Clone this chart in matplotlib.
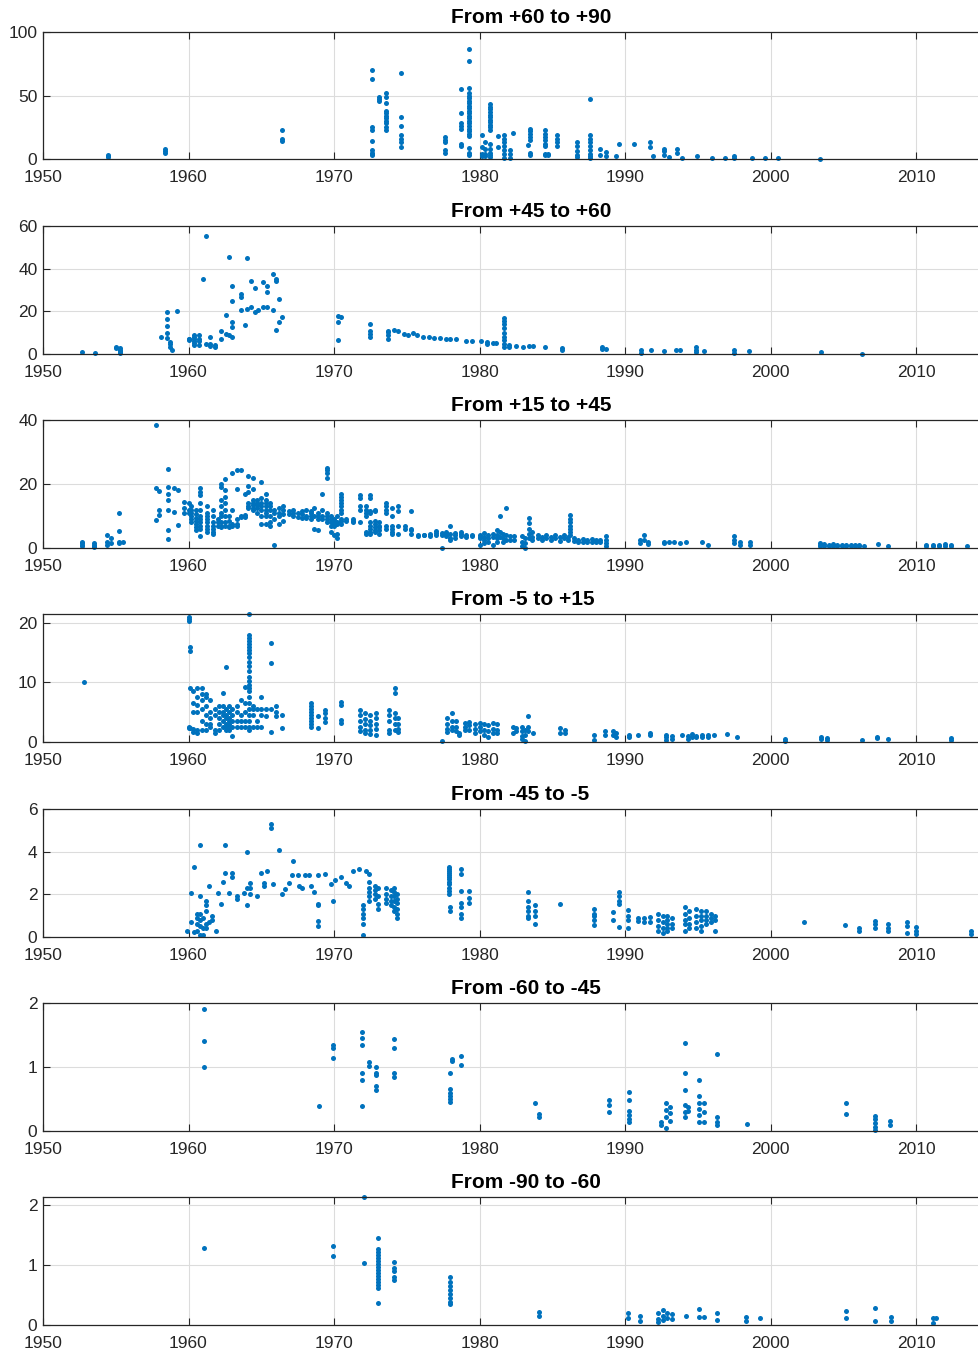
import matplotlib
matplotlib.use("Agg")
import matplotlib.pyplot as plt

# data: (year, [values...]) columns, one list per latitude band
band_titles = ["From +60 to +90", "From +45 to +60", "From +15 to +45", "From -5 to +15",
               "From -45 to -5", "From -60 to -45", "From -90 to -60"]
band_ylims = [100, 60, 40, 21.5, 6, 2, 2.14]
band_yticks = [[0, 50, 100], [0, 20, 40, 60], [0, 20, 40], [0, 10, 20],
               [0, 2, 4, 6], [0, 1, 2], [0, 1, 2]]

p1_cols = [
    (1954.5, [3.5, 2.5, 1.5]), (1958.4, [8, 6.5, 5]), (1966.4, [23, 16, 14.5]),
    (1972.6, [70, 63, 25, 23, 14, 7, 5, 4, 3]), (1973.1, [49, 47, 46]),
    (1973.6, [52, 49, 44, 38, 36, 34, 32, 30, 28, 25, 23]),
    (1974.6, [68, 33, 26, 19, 16, 13, 9.5]), (1977.6, [17, 15, 13, 7, 5]),
    (1978.7, [55, 36, 28, 26, 24, 12, 10]),
    (1979.3, [87, 77, 56, 52, 50, 48, 46, 44, 42, 40, 38, 36, 34, 32, 30, 28, 26, 24, 22, 20, 18, 9, 5, 3]),
    (1980.2, [19, 9.5, 4, 2]), (1980.4, [13, 8, 4, 2]),
    (1980.7, [43, 41, 39, 37, 35, 33, 31, 29, 27, 25, 23, 12, 8, 5, 3, 1.5]),
    (1981.3, [18, 9.5]), (1981.7, [19, 16, 13, 10, 7, 4, 1]), (1982.1, [7, 4, 1]),
    (1982.3, [20.5]), (1983.3, [11]), (1983.5, [24, 22, 20, 17, 15, 4.7, 3]),
    (1984.5, [22.6, 20, 17, 15, 12, 10, 4, 3]), (1984.7, [4, 3]),
    (1985.3, [19, 16, 13, 10]), (1986.7, [13, 10, 6, 3, 1.5]),
    (1987.6, [47.4, 19, 16, 13, 10, 7, 4, 2, 1]), (1988.3, [8, 3]), (1988.7, [5.5, 2]),
    (1989.4, [2]), (1989.6, [11.6]), (1990.6, [12]), (1991.7, [13, 9.5]), (1991.9, [2]),
    (1992.7, [8, 6, 3]), (1993.0, [1.5]), (1993.6, [8, 5]), (1993.9, [1]),
    (1994.95, [2]), (1996.0, [0.8]), (1996.9, [1]), (1997.5, [2, 0.5]), (1998.7, [0.8]),
    (1999.6, [0.8]), (2000.5, [0.5]), (2003.4, [0.3]),
]

p2_cols = [
    (1952.7, [0.9]), (1953.6, [0.3]), (1955.0, [3.5, 3]), (1955.3, [2.8, 2, 1.5, 1, 0.5]),
    (1958.1, [7.9]), (1958.5, [19.9, 16.5, 13, 9.8, 7.5]), (1958.7, [5.6, 4.5, 3.3]),
    (1958.9, [2]), (1959.2, [20]), (1960.0, [7, 6.5, 7.2]), (1960.4, [9, 8, 7, 6, 5, 4]),
    (1960.7, [9, 7, 6, 4]), (1961.0, [35.2]), (1961.2, [55.5, 4.8]), (1961.5, [4.8, 3.8, 7.9]),
    (1961.8, [4, 3.3]), (1962.2, [11, 7]), (1962.6, [18.5, 9.5]), (1962.8, [45.6, 8.7]),
    (1963.0, [32, 25, 15, 12.6, 7.9]), (1963.6, [28.2, 26.6, 20.4]), (1963.9, [13.7]),
    (1964.0, [45, 21.2]), (1964.3, [34.4, 22]), (1964.6, [31, 19.7]), (1964.8, [20.4]),
    (1965.1, [33.6, 22.2]), (1965.4, [32, 29, 22]), (1965.8, [37.5, 20.4]),
    (1966.0, [35, 34.4, 11.4]), (1966.2, [25.8, 15]), (1966.4, [17.3]),
    (1970.3, [18, 15, 6.7]), (1970.5, [17.2]), (1972.5, [14.2, 11, 9.5, 7.9]),
    (1973.7, [10.7, 10.3, 8.7, 7.2]), (1974.1, [11.4]), (1974.4, [10.6]),
    (1974.8, [9.5]), (1975.1, [8.7]), (1975.4, [10]), (1975.7, [8.7]),
    (1976.1, [7.9]), (1976.5, [7.9]), (1976.9, [7.5]), (1977.3, [7.5]), (1977.7, [7.2]),
    (1978.0, [7.2]), (1978.4, [7.2]), (1979.1, [6]), (1979.5, [6]), (1980.1, [6]),
    (1980.5, [4.8, 5.6]), (1980.9, [5.2]), (1981.1, [5.1]),
    (1981.7, [17.1, 15.6, 14, 12, 10, 8, 6.4, 4.8, 3.3]), (1982.0, [4.3, 3.3]),
    (1982.5, [3.7]), (1983.0, [3.5]), (1983.4, [3.7]), (1983.7, [3.7]), (1984.5, [3.3]),
    (1985.7, [2.8, 2]), (1988.4, [3.3, 2.5]), (1988.7, [2.5]), (1991.1, [1.7, 0.6]),
    (1991.8, [2]), (1992.7, [1.4]), (1993.5, [1.7]), (1993.8, [1.7]), (1994.9, [3.3, 2, 1]),
    (1995.4, [1.5]), (1997.5, [1.7, 0.5]), (1998.5, [1.2]), (2003.5, [0.8]), (2006.3, [0.2]),
]

p3_cols = [
    (1952.7, [2, 1.5, 1, 0.5]), (1953.5, [1.5, 1, 0.5, 0.2]), (1954.4, [4.2, 2, 1]),
    (1954.7, [3.1, 1.6]), (1955.2, [10.9, 5.4, 2, 1.6]), (1955.5, [2]),
    (1957.8, [38.4, 18.7, 8.8]), (1958.0, [17.7, 12, 10.4]),
    (1958.6, [24.6, 19.2, 17, 15, 12, 5.7, 2.8]), (1959.0, [18.7, 11.4]),
    (1959.3, [18.2, 7.3]), (1959.7, [14.5, 12.5, 11]), (1960.0, [14, 12, 10.9]),
    (1960.2, [13, 12, 11, 10, 9, 8]), (1960.5, [12, 10.5, 9.5, 8.5, 7.5, 6.5, 5.5]),
    (1960.8, [18.7, 17.5, 16.6, 14, 12, 10, 9, 8, 7, 6, 3.6]),
    (1961.3, [13, 11, 10, 9, 8, 7, 6, 5]), (1961.7, [12, 10, 8, 7, 6, 5, 4.5]),
    (1962.0, [9, 8, 7]), (1962.2, [20, 19, 15, 13, 11, 10, 8, 7, 6.5]),
    (1962.5, [21.5, 18, 16, 14, 12, 10, 8, 7]), (1962.8, [10, 8.5, 7, 6.5]),
    (1963.0, [23.5, 12, 7.5, 7]), (1963.3, [24.5, 18.5, 9, 7.5, 7]),
    (1963.6, [24.5, 10, 9.8]), (1963.9, [17, 10.2, 9.8]),
    (1964.1, [22.5, 19.5, 17.5, 14, 13, 12.5]), (1964.4, [22, 18.5, 15, 14, 13.5, 12.5, 12]),
    (1964.7, [15, 14, 13.5, 12.5, 11]), (1965.0, [20.5, 15.5, 14, 13, 12, 10, 7.5]),
    (1965.3, [17, 15, 14, 13, 12, 11, 10, 7.5]), (1965.6, [14, 13, 12, 10, 8, 7]),
    (1965.9, [0.8, 12, 11, 9]), (1966.2, [12.5, 11, 10, 7.5]), (1966.5, [13, 12, 10.5, 8.5]),
    (1966.9, [11.5, 10.5]), (1967.2, [12, 11, 10]), (1967.5, [11, 9.8]),
    (1967.8, [11.5, 10.5, 9.5]), (1968.1, [12, 10, 9.5]), (1968.4, [11.5, 11, 10, 9]),
    (1968.6, [12.5, 10, 6]), (1968.9, [11, 10, 9, 5.5]), (1969.2, [17, 12, 10, 9]),
    (1969.5, [25, 24.5, 23.5, 22, 11, 10, 9, 8]), (1969.8, [10, 9, 8, 7, 5]),
    (1970.0, [9, 8.5, 7.5, 7, 4]), (1970.2, [10, 8, 7.5, 4.5, 3]),
    (1970.5, [17, 16, 15, 14, 13, 12, 11, 9, 8.5, 7.5]), (1970.8, [9, 8.5]),
    (1971.3, [9, 8.5, 8]), (1971.8, [16.5, 15.5, 13, 12, 8]), (1972.2, [13, 12, 11, 10, 5, 4.5]),
    (1972.5, [16.5, 15.5, 11.5, 11, 8, 7, 6, 5, 4.5]), (1972.8, [12, 11.5, 8.5, 7.5, 6.5, 5.5, 5]),
    (1973.1, [8, 7, 6.5, 5.5, 4.5]), (1973.6, [14, 13, 12, 11, 7, 6]),
    (1974.0, [12.5, 10, 7, 6, 5, 4.5]), (1974.4, [13, 11.5, 7, 4.5]), (1974.9, [7, 6]),
    (1975.3, [11.5, 6, 5.5, 4.5]), (1975.8, [4, 3.8]), (1976.2, [4.2, 4]), (1976.6, [4.5, 3.6]),
    (1977.0, [5.2, 4.6, 4]), (1977.4, [4.6, 4, 0.1]), (1977.7, [5, 4.4, 3.8]),
    (1978.0, [6.8, 4.5, 3, 2.5]), (1978.3, [4.8, 4, 3.2]), (1978.7, [5, 4.3, 3.6]),
    (1979.1, [4, 3.5]), (1979.5, [4.1, 3.6]), (1980.0, [4, 3.5, 3, 1]),
    (1980.3, [4.7, 3.5, 2.5, 1.6]), (1980.6, [4, 3, 2]), (1980.9, [4.5, 3.5, 1]),
    (1981.2, [5.7, 4, 3, 2]), (1981.4, [9.9, 5, 3.5]), (1981.6, [4.5, 3, 2]),
    (1981.8, [12.5, 4, 2.5]), (1982.1, [3.6, 2.6]), (1982.4, [3.6, 2.6]),
    (1982.9, [3.6, 2, 0.5]), (1983.1, [3, 1.5, 0]), (1983.4, [9.4, 7.8, 6, 4.5, 3]),
    (1983.6, [5, 3.5, 2.6]), (1984.0, [4.2, 3]), (1984.3, [3.5, 2.5]), (1984.6, [4, 3]),
    (1984.9, [3.5, 2.5]), (1985.2, [4, 3]), (1985.5, [3.5, 2.2]), (1985.8, [4, 3]),
    (1986.1, [3.5, 2.5]), (1986.2, [10.4, 9, 8, 7, 6, 5, 4]), (1986.5, [3, 2.2]),
    (1986.8, [2.5, 2]), (1987.1, [2.8, 2]), (1987.4, [2.5, 1.8]), (1987.7, [2.8, 2]),
    (1988.0, [2.5, 1.8]), (1988.3, [2.5, 2]), (1988.7, [3.6, 2.5, 1.6, 0.5]),
    (1991.0, [2.6, 1.6]), (1991.3, [4.2, 2.5]), (1991.6, [2, 1.4]), (1992.7, [2, 1.6]),
    (1993.0, [1.8]), (1993.4, [1.8]), (1993.8, [1.6]), (1994.2, [1.8]), (1995.3, [2]),
    (1995.7, [0.9]), (1997.5, [3.6, 2.5, 1.6]), (1997.9, [2, 1]), (1998.6, [1.8, 1]),
    (2003.4, [1.5, 1, 0.5]), (2003.7, [1.2, 0.7]), (2004.0, [1, 0.6]), (2004.3, [1.2, 0.7]),
    (2004.6, [1, 0.6]), (2004.9, [0.9, 0.6]), (2005.2, [1, 0.6]), (2005.5, [0.9, 0.6]),
    (2005.8, [0.9, 0.6]), (2006.1, [0.8, 0.6]), (2006.4, [0.7]), (2007.4, [1.2]),
    (2008.1, [0.5]), (2010.7, [1, 0.5]), (2011.2, [1, 0.5]), (2011.6, [1, 0.5]),
    (2012.0, [1.2, 0.6]), (2012.4, [1, 0.5]), (2013.5, [0.5]),
]

p4_cols = [
    (1952.8, [10]), (1960.0, [21, 20.7, 20.4, 2.5, 2.3]), (1960.1, [16, 15.3, 9, 2.4]),
    (1960.3, [8.5, 6.5, 5, 2.2, 1.6]), (1960.6, [9, 7.5, 6.2, 5, 2, 1.5]),
    (1960.9, [9, 8, 7, 5.5, 3.5, 2]), (1961.2, [8, 7.5, 6, 4.5, 3, 2]),
    (1961.5, [7, 5, 4, 3, 2.5]), (1961.8, [5.5, 4.5, 2, 1.5]), (1962.1, [6, 5, 4, 3, 2]),
    (1962.4, [8.2, 6, 5, 4.5, 3.5, 2.5]), (1962.6, [12.6, 5.5, 4.5, 4, 3, 2.5, 2]),
    (1962.8, [6, 5, 4, 3.5, 3, 2.5, 2]), (1963.0, [5.5, 4.5, 3.5, 2.5, 1]),
    (1963.3, [6, 5, 3.5, 2.5]), (1963.6, [7, 4.5, 3.5, 2.5]), (1963.9, [9.3, 6.5, 5, 3.5, 2.5]),
    (1964.15, [21.5, 18, 17.5, 17, 16.5, 16, 15.5, 15, 14.2, 13.5, 12.8, 12, 11, 10.3,
               9.5, 9, 8.5, 7.5, 6.5, 5.5, 4.5, 3.5, 2.5, 2]),
    (1964.4, [6, 5.5, 4.5, 2.5]), (1964.7, [5.5, 3.5, 2.5]), (1965.0, [7.5, 5.5, 4.5, 2.5]),
    (1965.3, [5.5, 4.3]), (1965.7, [16.6, 13.2, 5.5, 1.6]), (1966.0, [6, 5, 4.3]),
    (1966.4, [4.5, 2.3]), (1968.4, [6.5, 6, 5.5, 5, 4.5, 4, 3.5, 3, 2.5]),
    (1968.9, [4.3, 2.3]), (1969.4, [5.4, 4.8, 4, 3.4]), (1970.5, [6.8, 6.2, 3.7, 3.2]),
    (1971.8, [5.4, 4.5, 3.5, 2.5, 1.8]), (1972.1, [4.8, 3.8, 3, 2, 1.5]),
    (1972.5, [4.5, 3.5, 2.8, 2, 1.3]), (1972.9, [4.8, 4, 3, 2.2, 1.2]),
    (1973.8, [5.4, 4.5, 3.5, 2, 1.5]), (1974.2, [9, 8.2, 4.8, 4, 3, 2]),
    (1974.4, [4, 3, 2.2, 1.6]), (1977.4, [0.1]), (1977.8, [4, 3, 2.2, 1.6]),
    (1978.1, [4.8, 3.5, 2.5, 2]), (1978.4, [3.5, 2.5, 1.8]), (1978.6, [1.5, 1.2]),
    (1979.0, [3.2, 2.5, 2]), (1979.3, [3.4, 2.8, 2]), (1979.7, [3, 2.2, 1.5]),
    (1980.0, [3.2, 2.5, 1.8]), (1980.3, [3, 2, 1.2]), (1980.6, [2.8, 1.8, 0.9]),
    (1980.9, [3.2, 2.2, 1.5]), (1981.2, [3, 2, 1.5]), (1982.3, [2.6, 1.5]), (1982.5, [2.3, 1.8]),
    (1982.9, [2.6, 1.8, 1, 0.5]), (1983.1, [2, 1.2, 0.1]), (1983.3, [4.3, 2.6, 1.8]),
    (1983.7, [1.5]), (1985.5, [2.3, 1.5]), (1985.9, [2, 1.5]), (1987.9, [1.2, 0.4]),
    (1988.6, [1.8, 1.2]), (1989.2, [1.8, 1.2]), (1989.4, [1.5, 0.9]), (1990.3, [1.2, 0.9]),
    (1990.9, [1.2]), (1991.7, [1.5, 1.2]), (1992.8, [1.2, 0.8, 0.4]), (1993.2, [1, 0.5]),
    (1993.9, [1.2]), (1994.3, [1, 0.5]), (1994.6, [1.3, 0.9]), (1994.9, [1, 0.8]),
    (1995.3, [1.2, 0.9]), (1995.7, [1.1, 0.9]), (1996.1, [1.2]), (1997.0, [1.3]),
    (1997.7, [0.8]), (2001.0, [0.5, 0.1]), (2003.5, [0.8, 0.5]), (2003.9, [0.6, 0.3]),
    (2006.3, [0.4]), (2007.3, [0.9, 0.7]), (2008.1, [0.5]), (2012.4, [0.7, 0.4]),
]

p5_cols = [
    (1959.9, [0.3]), (1960.2, [2.05, 0.7]), (1960.4, [3.3, 0.25]),
    (1960.6, [1.1, 0.9, 0.6, 0.3]), (1960.8, [4.3, 1.9, 1.1, 0.8, 0.5, 0.1]),
    (1961.0, [0.9, 0.4, 0.1]), (1961.2, [1.7, 1.5, 1.2, 0.6, 0.4]), (1961.4, [2.4, 0.7]),
    (1961.6, [1.0, 0.8]), (1961.9, [0.3]), (1962.0, [2.05]), (1962.2, [1.55]),
    (1962.4, [2.6]), (1962.5, [4.3, 3.0]), (1962.8, [2.05]), (1963.0, [3.0, 2.8]),
    (1963.3, [1.9, 1.8]), (1963.8, [2.05]), (1964.0, [4.0, 2.3, 1.5]), (1964.2, [2.55, 2.3, 2.0]),
    (1964.7, [1.9]), (1965.0, [3.0]), (1965.2, [2.55, 2.4]), (1965.4, [3.1]),
    (1965.7, [5.3, 5.1]), (1965.8, [2.5]), (1966.2, [4.1]), (1966.4, [2.0]),
    (1966.6, [2.25]), (1966.9, [2.55]), (1967.1, [2.9]), (1967.2, [3.55]),
    (1967.5, [2.9]), (1967.6, [2.4]), (1967.8, [2.3]), (1968.0, [2.9]), (1968.3, [2.9]),
    (1968.4, [2.4]), (1968.6, [2.1]), (1968.9, [2.9, 1.55, 1.5, 0.75, 0.5]),
    (1969.4, [2.95]), (1969.8, [2.5]), (1969.9, [1.7]), (1970.1, [2.65]),
    (1970.5, [2.8]), (1970.8, [2.55]), (1971.0, [2.4]), (1971.3, [3.1]), (1971.7, [3.2]),
    (1972.0, [1.5, 1.3, 1.1, 0.9, 0.6, 0.1]), (1972.2, [3.1]),
    (1972.4, [2.95, 2.6, 2.3, 2.1, 1.9, 1.7]), (1972.8, [2.4, 2.2, 2.0, 1.8]),
    (1973.0, [2.3, 1.9, 1.55, 1.3]), (1973.6, [2.3, 2.0, 1.8, 1.6]),
    (1973.9, [2.2, 1.9, 1.7, 1.5]), (1974.1, [2.3, 2.1, 1.9, 1.7, 1.4, 1.2]),
    (1974.3, [2.0, 1.8, 1.6, 1.3, 1.1, 0.9]),
    (1977.9, [3.3, 3.2, 3.1, 3.0, 2.9, 2.8, 2.7, 2.6, 2.5, 2.3, 2.15, 2.0]),
    (1978.0, [1.4, 1.2]), (1978.7, [3.2, 2.95, 2.15, 1.6, 1.4, 1.1, 0.9]),
    (1979.3, [2.15, 1.85, 1.6]), (1983.3, [2.1, 1.7, 1.4, 1.2, 1.0, 0.9]),
    (1983.8, [1.5, 1.2, 1.0, 0.6]), (1985.5, [1.55]), (1987.9, [1.3, 1.1, 1.0, 0.8, 0.55]),
    (1989.2, [1.15, 0.8]), (1989.6, [2.1, 1.9, 1.7, 1.55, 0.45]),
    (1990.2, [1.25, 1.0, 0.8, 0.4]), (1990.9, [0.9, 0.75]), (1991.3, [0.9, 0.7]),
    (1991.7, [0.95, 0.7]), (1992.3, [1.1, 0.8, 0.5, 0.3]), (1992.6, [1.0, 0.7, 0.4, 0.2]),
    (1992.9, [1.0, 0.8, 0.6, 0.4, 0.3]), (1993.2, [0.9, 0.6, 0.4]),
    (1994.1, [1.4, 1.1, 0.8, 0.6, 0.3]), (1994.4, [1.2, 0.9, 0.6, 0.4]),
    (1994.9, [1.3, 1.0, 0.7, 0.4]), (1995.2, [1.2, 1.0, 0.8, 0.5, 0.3]),
    (1995.6, [1.2, 1.0, 0.8, 0.6]), (1995.9, [1.1, 0.9, 0.7]), (1996.2, [1.0, 0.8, 0.3]),
    (2002.3, [0.7]), (2005.1, [0.55]), (2006.1, [0.4, 0.3]), (2007.2, [0.75, 0.6, 0.4]),
    (2008.1, [0.6, 0.4, 0.3]), (2009.4, [0.7, 0.5, 0.2]), (2010.0, [0.45, 0.3, 0.15]),
    (2013.8, [0.3, 0.15]),
]

p6_cols = [
    (1961.05, [1.91, 1.4, 1.0]), (1969.0, [0.39]), (1969.9, [1.35, 1.29, 1.14]),
    (1971.95, [1.54, 1.45, 1.35, 0.9, 0.8, 0.39]), (1972.4, [1.08, 1.01]),
    (1972.9, [1.0, 0.9, 0.87, 0.71, 0.64]), (1974.1, [1.44, 1.3, 0.91, 0.85]),
    (1978.0, [0.9, 0.66, 0.6, 0.55, 0.5, 0.45]), (1978.1, [1.13, 1.1]), (1978.7, [1.17, 1.03]),
    (1983.8, [0.43]), (1984.1, [0.26, 0.22]), (1988.9, [0.48, 0.4, 0.3]),
    (1990.25, [0.61, 0.48, 0.32, 0.25, 0.18, 0.14]), (1992.5, [0.14, 0.09]),
    (1992.8, [0.43, 0.33, 0.22, 0.05]), (1993.1, [0.38, 0.28, 0.15]),
    (1994.1, [1.37, 0.9, 0.64, 0.4, 0.3, 0.22]), (1994.3, [0.37, 0.32]),
    (1995.1, [0.8, 0.54, 0.43, 0.35, 0.25, 0.14]), (1995.4, [0.43, 0.3, 0.14]),
    (1996.3, [1.2, 0.22, 0.14, 0.09]), (1998.4, [0.11]), (2005.2, [0.43, 0.27]),
    (2007.2, [0.24, 0.18, 0.12, 0.06, 0.01]), (2008.2, [0.16, 0.09]),
]

p7_cols = [
    (1961.05, [1.29]), (1969.9, [1.32, 1.15]), (1972.05, [2.14, 1.04]),
    (1973.05, [1.46, 1.27, 1.22, 1.17, 1.12, 1.07, 1.02, 0.97, 0.92, 0.87, 0.82,
               0.77, 0.72, 0.67, 0.62, 0.36]),
    (1974.1, [1.05, 0.95, 0.9, 0.8, 0.75]),
    (1978.0, [0.81, 0.72, 0.65, 0.58, 0.52, 0.45, 0.38, 0.35]),
    (1984.1, [0.22, 0.15]), (1990.2, [0.2, 0.11]), (1991.0, [0.15, 0.06]),
    (1992.3, [0.2, 0.1, 0.05]), (1992.6, [0.25, 0.15, 0.08]), (1992.9, [0.2, 0.12]),
    (1993.2, [0.18, 0.1]), (1994.2, [0.15]), (1995.1, [0.27, 0.14]), (1995.4, [0.13]),
    (1996.3, [0.2, 0.09]), (1998.3, [0.14, 0.06]), (1999.3, [0.11]),
    (2005.2, [0.24, 0.11]), (2007.2, [0.28, 0.07]), (2008.3, [0.13, 0.06]),
    (2011.2, [0.11, 0.04]), (2011.4, [0.12]),
]

all_cols = [p1_cols, p2_cols, p3_cols, p4_cols, p5_cols, p6_cols, p7_cols]

# pixel layout of each axes (top, bottom) in a 979x1353 figure
W, H = 979, 1353
axes_px = [(32, 159), (226, 354), (420, 548), (614, 742), (809, 937), (1003, 1131), (1197, 1325)]
left_px = 43
dark = "#262626"

plt.rcParams["font.family"] = ["Liberation Sans", "DejaVu Sans"]
fig = plt.figure(figsize=(W / 100, H / 100), dpi=100)

for i, cols in enumerate(all_cols):
    top, bot = axes_px[i]
    ax = fig.add_axes([left_px / W, (H - bot) / H, 1.0, (bot - top) / H])
    xs = [yr for yr, vals in cols for v in vals]
    ys = [v for yr, vals in cols for v in vals]
    ax.plot(xs, ys, linestyle="none", marker="o", markersize=3.6,
            markeredgewidth=0, color="#0072BD", clip_on=False)
    ax.set_xlim(1950, 1950 + W / 14.55)
    ax.set_ylim(0, band_ylims[i])
    ax.set_xticks(range(1950, 2020, 10))
    ax.set_yticks(band_yticks[i])
    ax.grid(True, color="#dcdcdc", linewidth=0.8)
    ax.set_axisbelow(True)
    ax.tick_params(direction="in", length=5, width=0.8, colors=dark,
                   labelsize=12.5, top=True, right=False)
    ax.tick_params(axis="x", pad=8)
    ax.tick_params(axis="y", pad=4)
    for s in ax.spines.values():
        s.set_color(dark)
        s.set_linewidth(0.9)
    fig.text(451 / W, (H - top + 5) / H, band_titles[i], fontsize=15,
             fontweight="bold", ha="left", va="bottom", color="black")

fig.savefig("out.png", dpi=100)
